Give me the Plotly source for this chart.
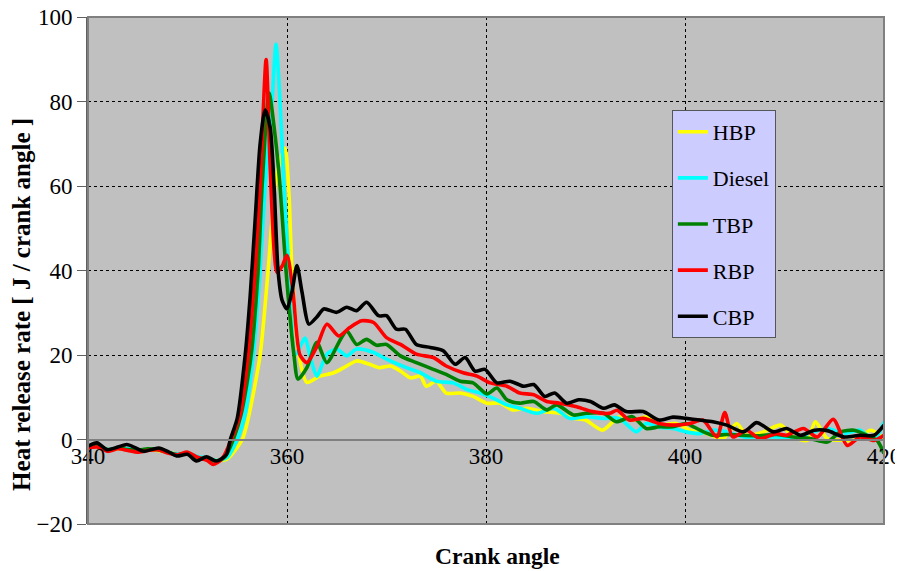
import plotly.graph_objects as go

# ---------------- data ----------------
hbp_x = [340, 341, 342, 343, 344, 345, 346, 347, 348, 349, 350, 351, 352, 353, 354, 355.5, 356.1, 357.3, 358.1, 358.8,
         359.3, 359.8, 360.2, 360.5, 361.2, 362.0, 363.3, 364.7, 365.7, 367.0, 368.3, 369.3, 370.4, 371.4, 372.4, 373.4,
         374.0, 375.0, 376.0, 377.4, 378.7, 380.1, 381.4, 382.7, 384.1, 385.8, 387.4, 388.7, 390.0, 391.7, 393.4, 394.7,
         396.4, 397.4, 399.1, 400.5, 402.2, 403.8, 405.2, 406.2, 407.9, 409.6, 410.9, 412.3, 413.1, 414.3, 416.0, 417.0,
         418.7, 420]
hbp_y = [-2.0, -1.6, -2.6, -2.2, -2.4, -2.8, -2.4, -2.6, -3.0, -3.4, -3.2, -4.2, -4.6, -5.0, -4.6, 0, 5, 20, 40, 60,
         66, 69, 58, 40, 20, 13.5, 15.0, 15.8, 17.0, 18.6, 17.8, 17.0, 17.4, 16.2, 14.6, 15.0,
         12.6, 13.8, 11.0, 11.0, 10.2, 8.6, 8.6, 7.0, 7.4, 6.6, 6.2, 5.0, 4.6, 2.2, 5.4, 4.6,
         5.4, 3.4, 3.8, 2.2, 1.4, 0.2, 3.8, 1.0, 1.8, 3.4, 0.6, -0.2, 4.2, 0.2, -0.2, -0.2,
         2.2, 0.2]

diesel_x = [340, 341, 342, 343, 344, 345, 346, 347, 348, 349, 350, 351, 352, 353, 354, 355.0, 355.8, 356.6, 357.3, 357.8,
            358.5, 358.9, 359.3, 359.7, 360.2, 360.8, 361.2, 361.8, 362.4, 363.0, 364.0, 365.0, 366.0, 367.0, 368.7,
            370.0, 372.0, 373.4, 375.0, 376.7, 378.1, 379.4, 380.7, 382.1, 383.4, 385.1, 386.8, 388.4, 390.1, 391.8,
            393.4, 395.1, 396.1, 397.4, 398.8, 400.1, 401.5, 402.8, 404.2, 405.9, 407.5, 409.2, 410.9, 412.6, 414.3,
            416.0, 417.6, 419.0, 420]
diesel_y = [-1.8, -1.6, -2.4, -2.0, -2.2, -2.6, -2.4, -2.2, -3.0, -3.4, -3.2, -4.0, -4.4, -5.0, -4.2, 0, 6, 20, 40, 60,
            80, 93.6, 80, 60, 40, 20, 21.4, 24.0, 19, 15.0, 20.2, 21.4, 19.8, 21.4, 20.6,
            19.0, 17.0, 15.8, 13.8, 13.4, 11.8, 11.0, 9.8, 8.2, 7.4, 6.2, 7.4, 5.0, 5.4, 5.0,
            5.0, 1.8, 3.8, 2.9, 2.6, 1.8, 1.4, 2.2, 1.8, 0.6, 0.6, 0.6, 0.2, 1.6, 2.6,
            1.4, 2.2, -0.2, 4.2]

tbp_x = [340, 341, 342, 343, 344, 345, 346, 347, 348, 349, 350, 351, 352, 353, 353.8, 354.6, 355.4, 356.4, 357.1, 357.5,
         358.2, 358.8, 359.3, 359.9, 360.7, 361.1, 362.0, 363.0, 364.0, 365.4, 366.0, 367.0, 368.0, 369.0, 370.0, 371.4,
         373.0, 374.7, 376.0, 377.4, 378.7, 380.1, 381.1, 382.1, 383.4, 384.8, 386.1, 387.1, 388.8, 390.1, 391.8, 393.1,
         394.7, 396.1, 397.4, 398.8, 400.1, 401.5, 402.8, 404.2, 405.5, 407.5, 409.2, 410.9, 412.6, 414.3, 415.6, 417.0,
         418.3, 419.3, 420]
tbp_y = [-1.8, -1.4, -2.4, -2.0, -2.4, -2.6, -2.2, -2.4, -3.0, -3.6, -3.4, -4.4, -4.6, -5.2, -4.0, 0, 6, 20, 40, 60,
         82, 72, 60, 40, 20, 14.3, 17, 23.0, 18.2, 23.8, 25.7, 22.5, 23.7, 22.3, 22.5, 19.8,
         18.2, 16.6, 15.4, 13.8, 13.4, 10.8, 12.2, 9.4, 8.6, 9.0, 7.0, 8.2, 5.8, 6.2, 6.2, 4.2,
         5.4, 2.6, 3.0, 3.0, 3.8, 2.2, 1.0, 1.2, 1.0, 0.9, 1.2, 0.6, 0.2, -0.6, 1.8, 2.2,
         1.0, -0.2, -3.3]

rbp_x = [340, 341, 342, 343, 344, 345, 346, 347, 348, 349, 350, 351, 352, 352.6, 353.5, 354.4, 355.3, 356.1, 356.8,
         357.3, 357.9, 358.3, 358.7, 359.0, 359.5, 360.0, 360.6, 361.3, 362.0, 363.0, 364.0, 365.2, 366.3, 367.5, 368.7,
         370.0, 371.4, 373.0, 374.7, 376.0, 377.7, 379.1, 380.4, 382.1, 383.4, 384.8, 386.1, 387.4, 389.0, 390.7, 392.4,
         393.2, 394.4, 395.8, 397.4, 398.8, 400.5, 401.8, 403.2, 404.0, 404.8, 406.2, 407.5, 409.2, 410.2, 411.9, 413.3,
         414.9, 416.3, 417.6, 419.0, 420]
rbp_y = [-2.0, -1.8, -2.8, -2.2, -2.6, -3.0, -2.6, -2.4, -3.2, -3.6, -3.0, -4.2, -5.0, -5.9, -4.5, 0, 6, 20, 40,
         60, 89.9, 65, 45, 39.6, 41, 43.6, 35, 20, 18.2, 22, 27.3, 24.5, 26.5, 28.1, 27.7,
         24.1, 22.5, 20.2, 19.4, 17.4, 15.8, 15.0, 13.4, 12.6, 11.0, 10.6, 9.0, 8.6, 7.8, 6.6, 6.2,
         6.9, 4.6, 5.0, 3.8, 3.4, 3.8, 4.6, 0.6, 6.4, 0.6, 2.2, 0.2, 1.4, 1.0, 2.6, 0.6,
         4.8, -1.4, 0.6, -0.2, 1.0]

cbp_x = [340, 340.9, 341.9, 343, 343.9, 344.8, 345.6, 347.1, 348, 348.9, 350, 350.9, 351.9, 352.9, 353.9, 354.3, 355,
         355.8, 356.3, 356.8, 357.3, 357.8, 358.3, 358.7, 359.1, 359.5, 360.0, 360.5, 361.0, 361.5, 362.2, 363.0, 363.7,
         365.0, 366.0, 367.0, 368.0, 369.2, 370.0, 371.0, 371.9, 373.0, 374.4, 375.7, 376.9, 377.9, 378.9, 379.9, 381.1,
         382.4, 383.8, 384.8, 385.9, 386.9, 388.1, 389.3, 390.5, 391.8, 392.9, 394.1, 395.8, 397.4, 398.8, 400.1, 401.5,
         402.8, 404.2, 405.9, 407.2, 408.9, 410.2, 411.6, 413.0, 414.3, 416.0, 417.6, 419.0, 420]
cbp_y = [-1.6, -0.8, -2.4, -1.8, -1.2, -2.0, -2.8, -2.0, -2.8, -3.9, -3.5, -5.1, -4.1, -5.1, -3.6, 0, 5,
         20, 34, 52, 70, 78, 74, 60, 40, 33, 30.9, 35, 41.2, 35, 27.3, 29, 30.9,
         30.1, 31.3, 30.5, 32.5, 29.3, 29.3, 26.1, 26.1, 22.5, 21.8, 21.0, 17.8, 19.4, 16.2, 16.6, 13.4,
         13.8, 12.6, 13.0, 10.2, 11.0, 8.6, 9.4, 9.0, 7.4, 8.2, 6.6, 6.6, 4.6, 5.3, 5.0, 4.6,
         4.2, 3.4, 1.8, 4.0, 1.8, 2.6, 1.0, 2.2, 2.1, 0.6, 1.0, 1.0, 3.4]

series = [
    ("HBP", hbp_x, hbp_y, "#FFFF00"),
    ("Diesel", diesel_x, diesel_y, "#00FFFF"),
    ("TBP", tbp_x, tbp_y, "#008000"),
    ("RBP", rbp_x, rbp_y, "#FF0000"),
    ("CBP", cbp_x, cbp_y, "#000000"),
]

x_ticks = [340, 360, 380, 400, 420]
y_ticks = [-20, 0, 20, 40, 60, 80, 100]

FONT = "Liberation Serif, Times New Roman, serif"

fig = go.Figure()
for name, xs, ys, col in series:
    fig.add_trace(go.Scatter(
        x=xs, y=ys, name=name, mode="lines",
        line=dict(color=col, width=3.6, shape="spline", smoothing=0.7),
        legendgroup=name,
    ))

# the page body has an 8px margin, so the figure is sized/offset to compensate
fig.update_layout(
    width=895, height=563,
    margin=dict(l=80, r=19, t=9, b=47, autoexpand=False),
    paper_bgcolor="white",
    plot_bgcolor="#C0C0C0",
    font=dict(family=FONT, size=22, color="black"),
    showlegend=True,
    legend=dict(
        x=0.7335, y=0.8166, xanchor="left", yanchor="top",
        bgcolor="#CCCCFF", bordercolor="#555555", borderwidth=1,
        font=dict(family=FONT, size=22, color="black"),
        tracegroupgap=14.5,
        itemwidth=30,
        entrywidth=75, entrywidthmode="pixels",
    ),
    xaxis=dict(
        range=[340, 420], tickvals=x_ticks, ticktext=[str(v) for v in x_ticks],
        showgrid=True, gridcolor="black", griddash="dot", gridwidth=1,
        zeroline=False, automargin=False,
        showline=True, linecolor="#808080", linewidth=2,
        anchor="free", position=20 / 120,
        ticks="", ticklabelstandoff=-4, ticklabeloverflow="allow",
        tickfont=dict(family=FONT, size=23),
    ),
    yaxis=dict(
        range=[-20, 100], tickvals=y_ticks,
        showgrid=True, gridcolor="black", griddash="dot", gridwidth=1,
        zeroline=False, automargin=False,
        showline=True, linecolor="#606060", linewidth=2,
        ticks="outside", ticklen=9, tickcolor="#606060",
        ticklabeloverflow="allow",
        tickfont=dict(family=FONT, size=23),
    ),
    annotations=[
        dict(text="<b>Crank angle</b>", xref="paper", yref="paper",
             x=0.514, y=-0.063, xanchor="center", yanchor="middle", showarrow=False,
             font=dict(family=FONT, size=23.5)),
        dict(text="<b>Heat release rate [ J / crank angle ]</b>", xref="paper", yref="paper",
             x=-0.083, y=0.434, xanchor="center", yanchor="middle", showarrow=False,
             textangle=-90, font=dict(family=FONT, size=25)),
    ],
    shapes=[dict(type="rect", xref="paper", yref="paper", x0=0, x1=1, y0=0, y1=1,
                 line=dict(color="#808080", width=2), layer="above")],
)

fig.write_html("out.html")
